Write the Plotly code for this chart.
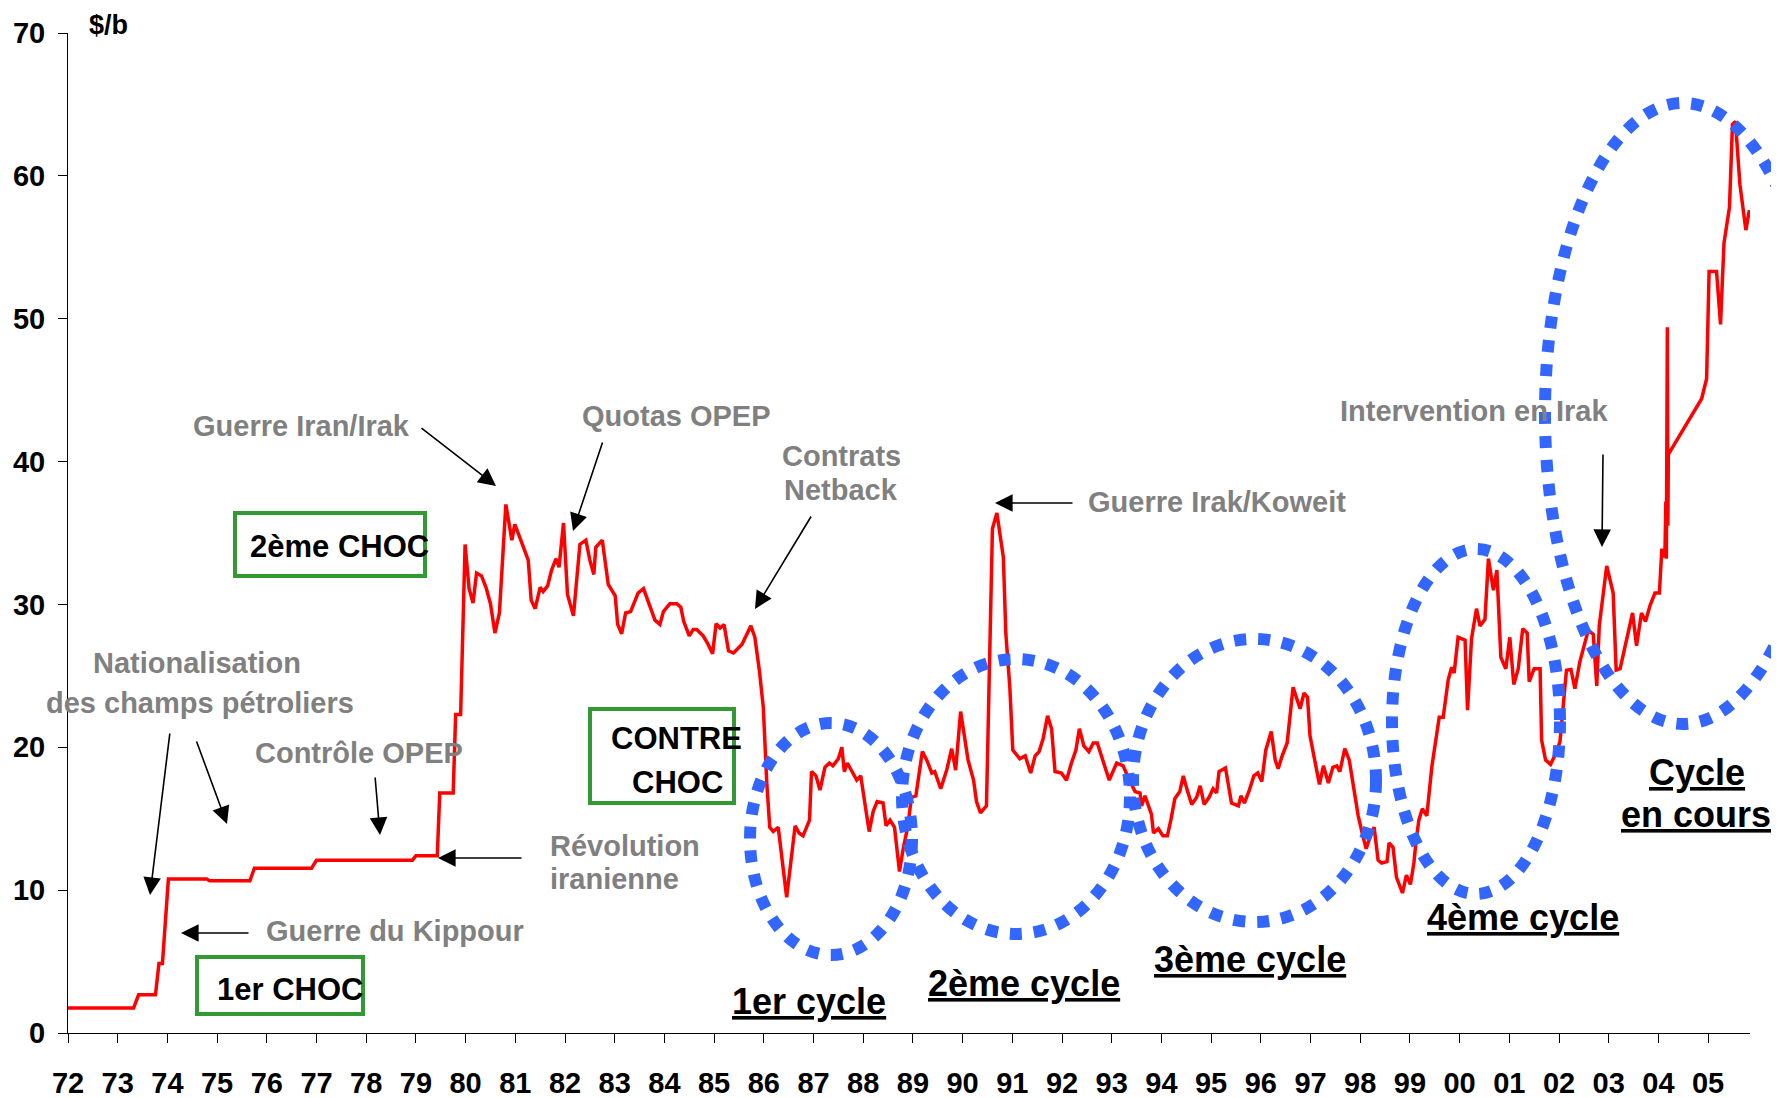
import plotly.graph_objects as go

# --- data ---
years_72_79 = [1972.00, 1973.32, 1973.42, 1973.76, 1973.83, 1973.90, 1974.02, 1974.79, 1974.85,
               1975.66, 1975.75, 1976.90, 1977.00, 1978.93, 1979.00, 1979.43, 1979.48, 1979.75,
               1979.80, 1979.90]
price_72_79 = [1.75, 1.75, 2.67, 2.67, 4.86, 4.86, 10.78, 10.78, 10.65,
               10.65, 11.54, 11.54, 12.1, 12.1, 12.4, 12.4, 16.8, 16.8,
               22.3, 22.3]

years_80_85 = [1979.99, 1980.07, 1980.15, 1980.22, 1980.32, 1980.41, 1980.50, 1980.59, 1980.68,
               1980.81, 1980.93, 1980.99, 1981.09, 1981.26, 1981.32, 1981.40, 1981.50, 1981.56,
               1981.65, 1981.73, 1981.82, 1981.88, 1981.97, 1982.05, 1982.17, 1982.30, 1982.42,
               1982.50, 1982.58, 1982.62, 1982.75, 1982.87, 1983.01, 1983.06, 1983.14, 1983.22,
               1983.32, 1983.47, 1983.58, 1983.68, 1983.81, 1983.91, 1983.98, 1984.11, 1984.25,
               1984.33, 1984.39, 1984.50, 1984.58, 1984.65, 1984.78, 1984.88, 1984.97, 1985.04,
               1985.12, 1985.20, 1985.29, 1985.39, 1985.56, 1985.74, 1985.82, 1985.91, 1985.99]
price_80_85 = [34.2, 31.1, 30.1, 32.2, 32.0, 31.2, 30.05, 28.0, 29.4,
               37.0, 34.5, 35.6, 34.7, 33.1, 30.3, 29.7, 31.2, 30.9,
               31.3, 32.4, 33.2, 32.6, 35.7, 30.7, 29.2, 34.2, 34.5,
               33.1, 32.1, 34.0, 34.5, 31.4, 30.6, 28.6, 27.95, 29.4,
               29.5, 30.8, 31.1, 30.2, 28.9, 28.6, 29.5, 30.05, 30.05,
               29.8, 28.8, 27.8, 28.25, 28.25, 27.8, 27.2, 26.55, 28.65,
               28.35, 28.6, 26.75, 26.6, 27.2, 28.5, 27.7, 25.4, 22.8]

years_86_92 = [1986.06, 1986.12, 1986.19, 1986.29, 1986.46, 1986.63, 1986.71, 1986.79, 1986.92,
               1986.96, 1987.05, 1987.13, 1987.23, 1987.32, 1987.39, 1987.50, 1987.57, 1987.62,
               1987.68, 1987.80, 1987.87, 1987.95, 1988.04, 1988.12, 1988.20, 1988.28, 1988.40,
               1988.46, 1988.54, 1988.63, 1988.73, 1988.81, 1988.90, 1988.97, 1989.06, 1989.19,
               1989.28, 1989.38, 1989.44, 1989.56, 1989.68, 1989.78, 1989.86, 1989.96, 1990.11,
               1990.22, 1990.28, 1990.36, 1990.48, 1990.54, 1990.60, 1990.69, 1990.82, 1990.87,
               1990.95, 1991.01, 1991.15, 1991.26, 1991.37, 1991.46, 1991.54, 1991.62, 1991.71,
               1991.79, 1991.86, 1991.99, 1992.09, 1992.19, 1992.28, 1992.35, 1992.44, 1992.54,
               1992.63, 1992.71, 1992.83, 1992.95]
price_86_92 = [17.5, 14.4, 14.1, 14.4, 9.5, 14.5, 14.0, 13.8, 14.9,
               18.3, 18.0, 17.0, 18.6, 18.9, 18.7, 19.2, 20.0, 18.3,
               18.9, 18.2, 17.7, 18.0, 15.7, 14.1, 15.5, 16.2, 16.1,
               14.5, 14.9, 14.4, 11.3, 13.0, 14.5, 16.5, 16.6, 19.7,
               19.1, 18.2, 18.3, 17.1, 18.4, 19.9, 18.4, 22.5, 19.1,
               17.7, 16.2, 15.4, 15.9, 26.1, 35.3, 36.4, 33.3, 27.95,
               24.2, 19.8, 19.2, 19.4, 18.2, 19.4, 19.7, 20.6, 22.2,
               21.3, 18.3, 18.2, 17.7, 18.9, 19.8, 21.3, 20.1, 19.7,
               20.3, 20.3, 18.9, 17.7]

years_93_99 = [1993.10, 1993.23, 1993.33, 1993.47, 1993.57, 1993.60, 1993.67, 1993.80, 1993.84,
               1993.94, 1994.03, 1994.12, 1994.19, 1994.27, 1994.37, 1994.44, 1994.52, 1994.61,
               1994.71, 1994.78, 1994.86, 1994.96, 1995.04, 1995.11, 1995.16, 1995.29, 1995.41,
               1995.55, 1995.60, 1995.67, 1995.77, 1995.86, 1995.94, 1996.02, 1996.10, 1996.21,
               1996.29, 1996.35, 1996.43, 1996.53, 1996.65, 1996.79, 1996.87, 1996.94, 1996.99,
               1997.09, 1997.18, 1997.26, 1997.36, 1997.45, 1997.53, 1997.59, 1997.69, 1997.78,
               1997.86, 1997.96, 1998.05, 1998.12, 1998.21, 1998.28, 1998.36, 1998.43, 1998.54,
               1998.58, 1998.66, 1998.73, 1998.85, 1998.93, 1999.01, 1999.08, 1999.12, 1999.18,
               1999.25, 1999.34, 1999.44, 1999.59, 1999.67, 1999.77, 1999.84, 1999.89, 1999.97]
price_93_99 = [18.9, 18.7, 17.9, 16.9, 16.8, 15.9, 16.6, 15.3, 14.0,
               14.3, 13.8, 13.8, 14.9, 16.4, 16.9, 18.0, 17.0, 16.0,
               16.5, 17.3, 16.0, 16.5, 17.1, 16.8, 18.3, 18.55, 16.1,
               15.9, 16.6, 16.1, 17.0, 18.0, 18.2, 17.6, 19.8, 21.1,
               19.1, 18.5, 19.4, 20.3, 24.2, 22.7, 23.8, 23.5, 20.8,
               19.0, 17.4, 18.7, 17.5, 18.6, 18.7, 18.3, 19.9, 19.1,
               17.2, 15.2, 13.85, 12.9, 13.85, 14.4, 12.1, 11.9, 12.0,
               13.3, 13.0, 10.9, 9.8, 11.05, 10.4, 11.9, 13.3, 14.9,
               15.7, 15.2, 18.6, 22.1, 22.1, 24.7, 25.6, 25.2, 27.7]

years_00_05 = [2000.11, 2000.16, 2000.24, 2000.34, 2000.41, 2000.51, 2000.58, 2000.68, 2000.75,
               2000.83, 2000.93, 2001.01, 2001.09, 2001.18, 2001.27, 2001.36, 2001.40, 2001.50,
               2001.62, 2001.65, 2001.73, 2001.83, 2001.94, 2002.02, 2002.09, 2002.15, 2002.24,
               2002.32, 2002.42, 2002.52, 2002.59, 2002.69, 2002.76, 2002.81, 2002.96, 2003.09,
               2003.15, 2003.23, 2003.36, 2003.48, 2003.56, 2003.66, 2003.74, 2003.83, 2003.93,
               2004.02, 2004.07, 2004.13, 2004.15, 2004.16, 2004.18, 2004.19, 2004.20, 2004.87,
               2004.97, 2005.02, 2005.17, 2005.25, 2005.32, 2005.43, 2005.49, 2005.55, 2005.64,
               2005.76, 2005.83]
price_00_05 = [27.5, 22.6, 27.6, 29.7, 28.5, 28.95, 33.2, 31.0, 32.4,
               26.3, 25.5, 27.7, 24.4, 25.5, 28.3, 28.0, 24.6, 25.5,
               25.5, 20.5, 19.1, 18.8, 19.6, 20.4, 23.3, 25.4, 25.45,
               24.1, 26.0, 27.2, 28.2, 27.9, 24.3, 28.5, 32.7, 30.8,
               25.4, 25.5, 27.6, 29.4, 27.1, 29.4, 28.8, 29.9, 30.8,
               30.8, 33.9, 33.3, 37.2, 33.2, 49.4, 35.5, 40.5, 44.4,
               45.8, 53.3, 53.3, 49.6, 55.3, 57.8, 63.6, 63.8, 59.4,
               56.2, 57.6]

tick_years = list(range(1972, 2006))
tick_labels = ["72", "73", "74", "75", "76", "77", "78", "79", "80", "81", "82", "83",
               "84", "85", "86", "87", "88", "89", "90", "91", "92", "93", "94", "95",
               "96", "97", "98", "99", "00", "01", "02", "03", "04", "05"]

years = years_72_79 + years_80_85 + years_86_92 + years_93_99 + years_00_05
prices = price_72_79 + price_80_85 + price_86_92 + price_93_99 + price_00_05

# --- layout helpers ---
FW, FH = 1779, 1098
PAGE_OFF = 8                       # default body margin of the html page
L, T, W, H = 68, 33, 1682, 1000    # plot area as seen on screen
YEAR_PX = 49.7
FONT = "Liberation Sans, Arial, sans-serif"
GREY = "#808080"
BLUE = "#3366FF"
GREEN = "#339933"


def px(x):
    return (x - L) / W


def py(y):
    return (T + H - y) / H


fig = go.Figure()
fig.add_trace(go.Scatter(x=years, y=prices, mode="lines",
                         line=dict(color="#FF0000", width=3.5),
                         hoverinfo="skip", showlegend=False))

annotations = []


def label(text, x, y, size=29, color=GREY, anchor="center"):
    annotations.append(dict(text=text, x=px(x), y=py(y), xref="paper", yref="paper",
                            showarrow=False, xanchor=anchor, yanchor="middle",
                            font=dict(family=FONT, size=size, color=color, weight="bold")))


def arrow(tail, tip):
    annotations.append(dict(text="", x=px(tip[0]), y=py(tip[1]), xref="paper", yref="paper",
                            ax=tail[0] - tip[0], ay=tail[1] - tip[1],
                            showarrow=True, arrowhead=2, arrowsize=2.2, arrowwidth=1.6,
                            arrowcolor="black", standoff=0))


label("<b>$/b</b>", 108, 25, size=27, color="black")

label("Guerre Iran/Irak", 301, 426)
arrow((420, 427), (496, 486))
label("Quotas OPEP", 676, 416)
arrow((603, 441), (573, 531))
label("Contrats", 841, 456)
label("Netback", 841, 490)
arrow((812, 515), (755, 609))
label("Guerre Irak/Koweit", 1217, 502)
arrow((1074, 503), (995, 503))
label("Intervention en Irak", 1474, 411)
arrow((1603, 453), (1602, 547))
label("Nationalisation", 197, 663)
label("des champs pétroliers", 200, 703)
arrow((170, 732), (150, 895))
arrow((196, 740), (227, 824))
label("Contrôle OPEP", 359, 753)
arrow((375, 776), (380, 835))
label("Révolution", 548, 846, anchor="left")
label("iranienne", 548, 879, anchor="left")
arrow((523, 858), (438, 858))
label("Guerre du Kippour", 395, 931)
arrow((250, 933), (181, 933))

# boxed labels
label("2ème CHOC", 339, 546, size=31, color="black")
label("CONTRE", 676, 738, size=31, color="black")
label("CHOC", 677, 782, size=31, color="black")
label("1er CHOC", 290, 989, size=31, color="black")

# cycle labels
label("<u>1er cycle</u>", 809, 1001, size=36, color="black")
label("<u>2ème cycle</u>", 1024, 983, size=36, color="black")
label("<u>3ème cycle</u>", 1250, 959, size=36, color="black")
label("<u>4ème cycle</u>", 1523, 917, size=36, color="black")
label("<u>Cycle</u>", 1697, 772, size=36, color="black")
label("<u>en cours</u>", 1696, 814, size=36, color="black")

shapes = []
for x0, y0, x1, y1 in [(750, 723, 912, 955), (902, 659, 1130, 934), (1133, 639, 1376, 922),
                       (1392, 549, 1560, 894), (1545, 103, 1821, 724)]:
    shapes.append(dict(type="circle", xref="paper", yref="paper",
                       x0=px(x0), x1=px(x1), y0=py(y1), y1=py(y0), layer="above",
                       line=dict(color=BLUE, width=12, dash="12px,12px")))
for x0, y0, x1, y1 in [(235, 513, 425, 576), (590, 709, 734, 803), (197, 957, 363, 1014)]:
    shapes.append(dict(type="rect", xref="paper", yref="paper",
                       x0=px(x0), x1=px(x1), y0=py(y1), y1=py(y0), layer="above",
                       line=dict(color=GREEN, width=4)))

ml, mt = L - PAGE_OFF, T - PAGE_OFF
fig.update_layout(
    width=FW, height=FH, autosize=False,
    margin=dict(l=ml, r=FW - ml - W, t=mt, b=FH - mt - H, pad=0),
    paper_bgcolor="white", plot_bgcolor="white",
    showlegend=False,
    xaxis=dict(range=[1972, 1972 + W / YEAR_PX], tickvals=tick_years, ticktext=tick_labels,
               automargin=False,
               showgrid=False, zeroline=False, showline=True, linecolor="black", linewidth=1,
               ticks="outside", ticklen=9, tickwidth=1, tickcolor="black",
               ticklabelstandoff=15,
               tickfont=dict(family=FONT, size=29, color="black", weight="bold")),
    yaxis=dict(range=[0, 70], dtick=10, automargin=False,
               showgrid=False, zeroline=False, showline=True,
               linecolor="black", linewidth=1, ticks="outside", ticklen=9, tickwidth=1,
               tickcolor="black", ticklabelstandoff=7,
               tickfont=dict(family=FONT, size=29, color="black", weight="bold")),
    annotations=annotations,
    shapes=shapes,
)

fig.write_html("out.html")
